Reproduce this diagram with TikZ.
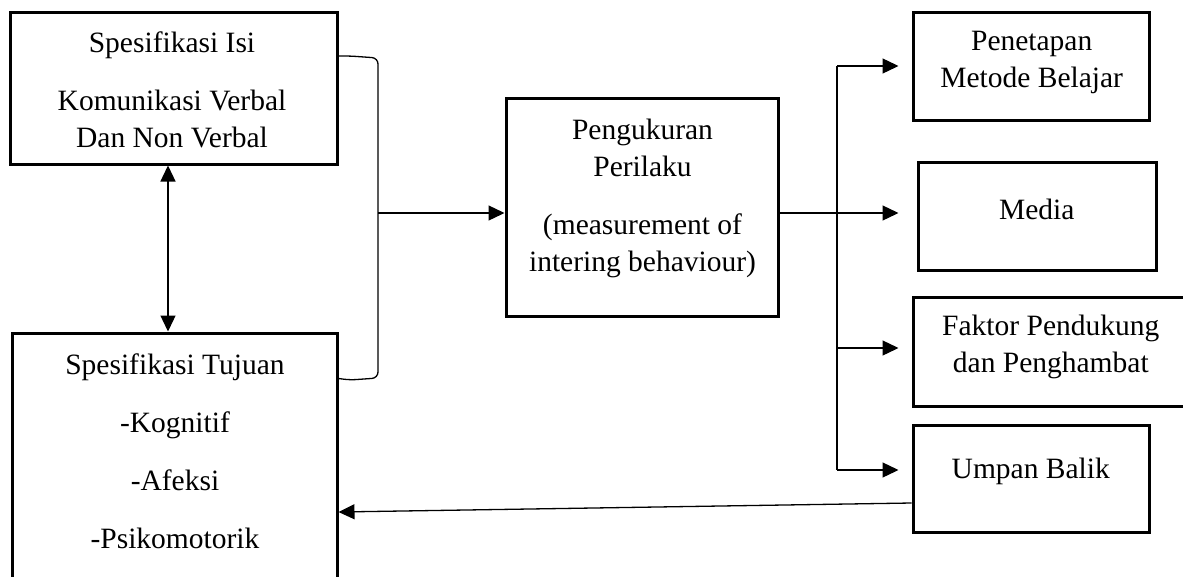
\documentclass[tikz,border=0pt]{standalone}
\usepackage{fontspec}
\setmainfont{Liberation Serif}
\usetikzlibrary{arrows.meta,calc}
\begin{document}
\begin{tikzpicture}[x=1pt,y=-1pt,
  box/.style={draw,line width=3pt,rectangle,inner sep=0pt},
  txt/.style={align=center,inner sep=0pt,font=\fontsize{29.5}{37}\selectfont},
  conn/.style={line width=1.3pt},
  arr/.style={conn,-{Triangle[length=16pt,width=15pt]}},
  darr/.style={conn,{Triangle[length=16pt,width=15pt]}-{Triangle[length=16pt,width=15pt]}}]
\useasboundingbox (0,0) rectangle (1183,576);
\clip (0,0) rectangle (1183,576);
% boxes
\node[box,minimum width=327pt,minimum height=152pt] (b1) at (173.5,88) {};
\node[box,minimum width=325pt,minimum height=287pt] (b2) at (174.5,476.5) {};
\node[box,minimum width=272pt,minimum height=218pt] (b3) at (642,207) {};
\node[box,minimum width=236pt,minimum height=108pt] (pm) at (1031,66) {};
\node[box,minimum width=238pt,minimum height=108pt] (md) at (1037,216) {};
\node[box,minimum width=292pt,minimum height=109pt] (fk) at (1059,351.5) {};
\node[box,minimum width=236pt,minimum height=107pt] (ub) at (1031,478.5) {};
% texts
\node[txt] (t1) at (172,90) {Spesifikasi Isi\\[21pt]Komunikasi Verbal\\Dan Non Verbal};
\node[txt] (t2) at (175,451) {Spesifikasi Tujuan\\[21pt]-Kognitif\\[21pt]-Afeksi\\[21pt]-Psikomotorik};
\node[txt] (t3) at (642.5,198) {Pengukuran\\Perilaku\\[21pt](measurement of\\intering behaviour)};
\node[txt] (tpm) at (1031.7,62) {Penetapan\\Metode Belajar};
\node[txt] (tmd) at (1036.7,209) {Media};
\node[txt] (tfk) at (1050.8,347) {Faktor Pendukung\\dan Penghambat};
\node[txt] (tub) at (1030.8,471) {Umpan Balik};
% coordinates
\coordinate (bk) at (378,213);
\coordinate (vx) at (837,213);
% bracket
\draw[conn,rounded corners=6pt] ($(b1.east)+(0,-32)$) -- (350,56) -- (378,58) -- (378,378) -- (350,380) -- ($(b2.north east)+(0,47)$);
\draw[arr] (bk) -- (b3.west |- bk);
% double arrow
\draw[darr] (b1.south -| 168,0) -- (b2.north -| 168,0);
% right side
\draw[arr,shorten >=18pt] (b3.east |- vx) -- (md.west |- vx);
\draw[conn] (837,66) -- (837,470);
\draw[arr,shorten >=13pt] (837,66) -- (pm.west |- 0,66);
\draw[arr,shorten >=13pt] (837,348) -- (fk.west |- 0,348);
\draw[arr,shorten >=13pt] (837,470) -- (ub.west |- 0,470);
% feedback
\draw[arr] ($(ub.west)+(0,24.5)$) -- (b2.east |- 0,512);
\end{tikzpicture}
\end{document}
